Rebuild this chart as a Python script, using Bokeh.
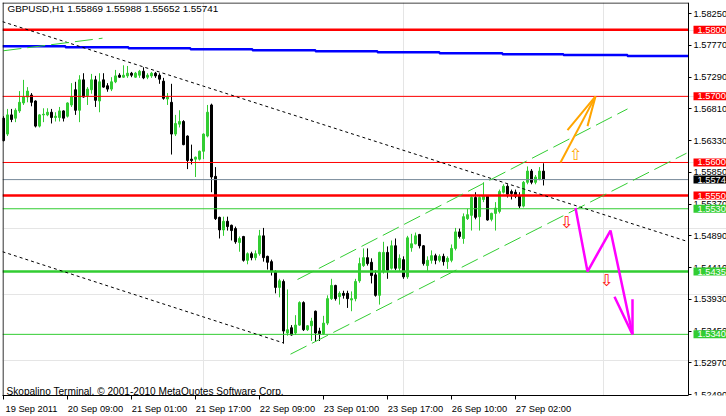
from bokeh.plotting import figure
from bokeh.models import (Range1d, FixedTicker, PrintfTickFormatter, Label,
                          ColumnDataSource, LinearAxis)
from bokeh.embed import file_html
from bokeh.resources import INLINE
from bokeh.core.properties import value

FONT = "Liberation Sans"
FS = "9.3px"
GREEN = "#32CD32"
RED = "#FF0000"

title_text = "GBPUSD,H1  1.55869 1.55988 1.55652 1.55741"
footer_text = "Skopalino Terminal, \u00a9 2001-2010 MetaQuotes Software Corp."

# hourly candles, bar index 0 = 19 Sep 2011
opens = [1.5667, 1.5643, 1.5672, 1.5667, 1.5678, 1.5690, 1.5699, 1.5702, 1.5693, 1.5655,
         1.5672, 1.5672, 1.5676, 1.5668, 1.5668, 1.5678, 1.5670, 1.5687, 1.5710, 1.5679,
         1.5725, 1.5701, 1.5710, 1.5725, 1.5693, 1.5725, 1.5716, 1.5711, 1.5722, 1.5732,
         1.5729, 1.5731, 1.5735, 1.5729, 1.5732, 1.5738, 1.5729, 1.5731, 1.5735, 1.5732,
         1.5723, 1.5696, 1.5691, 1.5643, 1.5658, 1.5662, 1.5640, 1.5605, 1.5605, 1.5605,
         1.5617, 1.5640, 1.5687, 1.5579, 1.5517, 1.5498, 1.5511, 1.5505, 1.5500, 1.5479,
         1.5488, 1.5452, 1.5462, 1.5456, 1.5462, 1.5489, 1.5458, 1.5450, 1.5435, 1.5411,
         1.5420, 1.5342, 1.5350, 1.5342, 1.5354, 1.5388, 1.5347, 1.5353, 1.5375, 1.5345,
         1.5341, 1.5357, 1.5394, 1.5414, 1.5397, 1.5402, 1.5402, 1.5392, 1.5394, 1.5421,
         1.5444, 1.5456, 1.5449, 1.5430, 1.5399, 1.5435, 1.5464, 1.5440, 1.5474, 1.5440,
         1.5453, 1.5427, 1.5471, 1.5477, 1.5491, 1.5474, 1.5444, 1.5452, 1.5459, 1.5452,
         1.5458, 1.5450, 1.5452, 1.5470, 1.5495, 1.5485, 1.5515, 1.5520, 1.5547, 1.5518,
         1.5544, 1.5549, 1.5514, 1.5523, 1.5526, 1.5555, 1.5564, 1.5556, 1.5555, 1.5550,
         1.5534, 1.5570, 1.5587, 1.5570, 1.5575, 1.55869]
highs = [1.5670, 1.5681, 1.5681, 1.5682, 1.5708, 1.5725, 1.5714, 1.5705, 1.5694, 1.5673,
         1.5682, 1.5682, 1.5681, 1.5676, 1.5684, 1.5679, 1.5691, 1.5720, 1.5722, 1.5732,
         1.5735, 1.5714, 1.5734, 1.5731, 1.5735, 1.5735, 1.5720, 1.5729, 1.5740, 1.5735,
         1.5747, 1.5746, 1.5737, 1.5737, 1.5740, 1.5744, 1.5735, 1.5737, 1.5737, 1.5735,
         1.5728, 1.5705, 1.5719, 1.5672, 1.5679, 1.5664, 1.5641, 1.5627, 1.5609, 1.5618,
         1.5644, 1.5687, 1.5689, 1.5593, 1.5518, 1.5518, 1.5518, 1.5506, 1.5503, 1.5488,
         1.5489, 1.5464, 1.5465, 1.5467, 1.5498, 1.5501, 1.5459, 1.5453, 1.5437, 1.5424,
         1.5423, 1.5408, 1.5354, 1.5369, 1.5390, 1.5390, 1.5354, 1.5365, 1.5376, 1.5350,
         1.5368, 1.5399, 1.5424, 1.5415, 1.5405, 1.5406, 1.5406, 1.5405, 1.5424, 1.5456,
         1.5470, 1.5470, 1.5455, 1.5437, 1.5465, 1.5480, 1.5473, 1.5482, 1.5485, 1.5461,
         1.5458, 1.5489, 1.5492, 1.5494, 1.5492, 1.5475, 1.5458, 1.5467, 1.5462, 1.5461,
         1.5462, 1.5458, 1.5476, 1.5501, 1.5500, 1.5523, 1.5530, 1.5549, 1.5555, 1.5549,
         1.5570, 1.5550, 1.5524, 1.5540, 1.5559, 1.5567, 1.5567, 1.5559, 1.5559, 1.5555,
         1.5572, 1.5594, 1.5590, 1.5581, 1.5593, 1.55988]
lows = [1.5632, 1.5640, 1.5661, 1.5661, 1.5675, 1.5687, 1.5691, 1.5685, 1.5653, 1.5653,
        1.5661, 1.5670, 1.5659, 1.5662, 1.5662, 1.5662, 1.5668, 1.5684, 1.5672, 1.5661,
        1.5698, 1.5687, 1.5704, 1.5684, 1.5676, 1.5713, 1.5707, 1.5708, 1.5720, 1.5728,
        1.5728, 1.5728, 1.5729, 1.5728, 1.5728, 1.5726, 1.5726, 1.5728, 1.5728, 1.5719,
        1.5695, 1.5687, 1.5612, 1.5640, 1.5653, 1.5626, 1.5590, 1.5597, 1.5578, 1.5603,
        1.5605, 1.5638, 1.5555, 1.5513, 1.5485, 1.5489, 1.5497, 1.5482, 1.5477, 1.5465,
        1.5450, 1.5446, 1.5452, 1.5452, 1.5459, 1.5450, 1.5438, 1.5429, 1.5402, 1.5396,
        1.5326, 1.5338, 1.5338, 1.5339, 1.5353, 1.5345, 1.5345, 1.5330, 1.5330, 1.5330,
        1.5339, 1.5354, 1.5392, 1.5391, 1.5385, 1.5394, 1.5380, 1.5375, 1.5390, 1.5418,
        1.5442, 1.5444, 1.5417, 1.5397, 1.5385, 1.5432, 1.5424, 1.5438, 1.5437, 1.5435,
        1.5424, 1.5424, 1.5465, 1.5476, 1.5470, 1.5444, 1.5436, 1.5447, 1.5446, 1.5449,
        1.5444, 1.5439, 1.5449, 1.5467, 1.5485, 1.5477, 1.5513, 1.5497, 1.5514, 1.5497,
        1.5540, 1.5512, 1.5511, 1.5497, 1.5523, 1.5553, 1.5547, 1.5544, 1.5546, 1.5531,
        1.5532, 1.5567, 1.5567, 1.5567, 1.5573, 1.55652]
closes = [1.5633, 1.5672, 1.5665, 1.5679, 1.5691, 1.5699, 1.5708, 1.5691, 1.5655, 1.5672,
          1.5673, 1.5676, 1.5668, 1.5670, 1.5678, 1.5667, 1.5690, 1.5699, 1.5679, 1.5725,
          1.5699, 1.5711, 1.5725, 1.5694, 1.5722, 1.5714, 1.5711, 1.5722, 1.5731, 1.5729,
          1.5732, 1.5735, 1.5732, 1.5735, 1.5738, 1.5728, 1.5732, 1.5735, 1.5731, 1.5726,
          1.5697, 1.5699, 1.5643, 1.5659, 1.5662, 1.5627, 1.5603, 1.5603, 1.5608, 1.5617,
          1.5643, 1.5676, 1.5578, 1.5515, 1.5498, 1.5511, 1.5503, 1.5497, 1.5480, 1.5485,
          1.5452, 1.5462, 1.5456, 1.5462, 1.5489, 1.5456, 1.5449, 1.5435, 1.5411, 1.5421,
          1.5345, 1.5347, 1.5339, 1.5354, 1.5388, 1.5347, 1.5353, 1.5360, 1.5342, 1.5341,
          1.5357, 1.5394, 1.5414, 1.5394, 1.5402, 1.5399, 1.5394, 1.5394, 1.5420, 1.5447,
          1.5456, 1.5447, 1.5429, 1.5399, 1.5464, 1.5464, 1.5437, 1.5474, 1.5440, 1.5455,
          1.5427, 1.5486, 1.5477, 1.5489, 1.5474, 1.5447, 1.5452, 1.5459, 1.5452, 1.5458,
          1.5450, 1.5455, 1.5470, 1.5495, 1.5488, 1.5518, 1.5521, 1.5547, 1.5517, 1.5547,
          1.5549, 1.5513, 1.5523, 1.5531, 1.5556, 1.5564, 1.5552, 1.5553, 1.5549, 1.5534,
          1.5570, 1.5587, 1.5570, 1.5578, 1.5587, 1.55741]

x_tick_bars = [0, 16, 32, 48, 64, 80, 96, 112, 128]
x_tick_labels = ["19 Sep 2011", "20 Sep 09:00", "21 Sep 01:00", "21 Sep 17:00", "22 Sep 09:00",
                 "23 Sep 01:00", "23 Sep 17:00", "26 Sep 10:00", "27 Sep 02:00"]
y_ticks = [1.52490, 1.52970, 1.53450, 1.53930, 1.54410, 1.54890, 1.55370,
           1.55850, 1.56330, 1.56810, 1.57290, 1.57770, 1.58250]

level_prices = [1.58009, 1.57000, 1.56000, 1.55741, 1.55500, 1.55300, 1.54350, 1.53400]
level_colors = [RED, RED, RED, "#778899", RED, GREEN, GREEN, GREEN]
level_widths = [2.5, 1, 1, 1, 2.5, 1, 2.5, 1]

blue_x = [-0.25, 15.5, 31.25, 46.75, 62.25, 78, 93.5, 109, 124.75, 140, 156, 171.25]
blue_y = [1.57759, 1.57744, 1.57729, 1.57714, 1.57699, 1.57684, 1.57669, 1.57654,
          1.57639, 1.57624, 1.57609, 1.57609]

trend_down_x = [-0.25, 171.25]
trend_down_y = [1.5813, 1.5480]
trend_low_x = [-0.25, 70]
trend_low_y = [1.5465, 1.5327]
chan_up_x = [73.5, 156]
chan_up_y = [1.5423, 1.5681]
chan_lo_x = [71.75, 170.75]
chan_lo_y = [1.5310, 1.5614]
chan_old_x = [0, 24.75]
chan_old_y = [1.5769, 1.5788]

up_path_x = [139.25, 148]
up_path_y = [1.5600, 1.5700]
up_head_x = [141, 148, 146]
up_head_y = [1.5649, 1.5700, 1.5655]
down_path_x = [143, 146, 151.75, 157.25]
down_path_y = [1.5531, 1.5435, 1.5497, 1.5340]
down_head_x = [152.75, 157.25, 157.25]
down_head_y = [1.5397, 1.5340, 1.5393]

sig_x = [143, 140.75, 150.75]
sig_y = [1.5612, 1.5509, 1.5421]
sig_text = ["\u21e7", "\u21e9", "\u21e9"]
sig_color = ["#FFA500", RED, RED]

tag_prices = [1.58009, 1.57000, 1.56000, 1.55741, 1.55500, 1.55300, 1.54350, 1.53400]
tag_colors = [RED, RED, RED, "#000000", RED, GREEN, GREEN, GREEN]

# chart geometry (bar index / price space)
x_start, x_end = -0.25, 180.75
chart_right = 171.25
tag_x = 172.5
y_start, y_end = 1.52475, 1.58420
label_shift = 7.0
FRAME_H = 396

n = len(opens)
bars = list(range(n))
candle_color = [GREEN if c > o else "#000000" for o, c in zip(opens, closes)]
src = ColumnDataSource(dict(
    x=bars, h=highs, l=lows,
    top=[max(o, c) for o, c in zip(opens, closes)],
    bottom=[min(o, c) for o, c in zip(opens, closes)],
    color=candle_color))

p = figure(width=724, height=414, output_backend="svg", toolbar_location=None,
           x_range=Range1d(x_start, x_end), y_range=Range1d(y_start, y_end),
           x_axis_location=None, y_axis_location=None,
           min_border_left=0, min_border_right=0, min_border_top=0,
           min_border_bottom=414 - FRAME_H,
           styles={"position": "absolute", "left": "2px", "top": "2px"})
p.background_fill_color = "white"
p.border_fill_color = "white"
p.outline_line_color = None


def style_axis(ax):
    ax.major_label_text_font = FONT
    ax.major_label_text_font_size = FS
    ax.major_label_text_color = "black"
    ax.major_tick_in = 0
    ax.minor_tick_in = 0
    ax.minor_tick_out = 0


# time axis: tick marks at the bar times (minor ticks), labels just right of them
label_pos = [round(t + label_shift, 2) for t in x_tick_bars]
xa = LinearAxis(ticker=FixedTicker(ticks=label_pos, minor_ticks=x_tick_bars),
                major_label_overrides=dict(zip(label_pos, x_tick_labels)))
style_axis(xa)
xa.axis_line_color = "black"
xa.major_tick_line_color = None
xa.major_tick_out = 0
xa.minor_tick_line_color = "black"
xa.minor_tick_out = 4
xa.major_label_standoff = 4
xa.bounds = (x_start, chart_right)
p.add_layout(xa, "below")

# price scale on the right edge of the chart
ya = LinearAxis(fixed_location=chart_right, ticker=FixedTicker(ticks=y_ticks),
                formatter=PrintfTickFormatter(format="%.5f"))
style_axis(ya)
ya.axis_line_color = "black"
ya.major_tick_line_color = "black"
ya.major_tick_out = 3
ya.major_label_standoff = 2
p.add_layout(ya, "right")

# candles
p.segment(x0="x", y0="h", x1="x", y1="l", line_color="color", line_width=1, source=src)
p.vbar(x="x", width=0.5, top="top", bottom="bottom", fill_color="color",
       line_color="color", line_width=1, source=src)

# horizontal levels
p.segment(x0=[x_start] * len(level_prices), y0=level_prices,
          x1=[chart_right] * len(level_prices), y1=level_prices,
          line_color=level_colors, line_width=level_widths)

# moving average (blue step line)
p.step(blue_x, blue_y, mode="after", line_color="#0000FF", line_width=2.5)

# trend lines
p.line(trend_down_x, trend_down_y, line_color="black", line_width=1, line_dash="3 3")
p.line(trend_low_x, trend_low_y, line_color="black", line_width=1, line_dash="3 3")
for xs, ys in ((chan_up_x, chan_up_y), (chan_lo_x, chan_lo_y), (chan_old_x, chan_old_y)):
    p.line(xs, ys, line_color=GREEN, line_width=1, line_dash="18 6")

# forecast arrows
p.line(up_path_x, up_path_y, line_color="#FFA500", line_width=2)
p.line(up_head_x, up_head_y, line_color="#FFA500", line_width=2)
p.line(down_path_x, down_path_y, line_color="#FF00FF", line_width=2.5)
p.line(down_head_x, down_head_y, line_color="#FF00FF", line_width=2.5)

p.text(x=sig_x, y=sig_y, text=sig_text, text_color=sig_color,
       text_font=value("DejaVu Sans"), text_font_size="16px",
       text_align="center", text_baseline="middle")

# chart frame (left and top edges)
half_px_x = (x_end - x_start) / 724 / 2
half_px_y = (y_end - y_start) / FRAME_H / 2
p.segment(x0=[x_start + half_px_x, x_start], y0=[y_start, y_end - half_px_y],
          x1=[x_start + half_px_x, chart_right], y1=[y_end, y_end - half_px_y],
          line_color="black", line_width=1)

# price tags on the right scale
for pr, col in zip(tag_prices, tag_colors):
    p.add_layout(Label(x=tag_x, y=pr, x_units="data", y_units="data", text=f"{pr:.5f}",
                       text_font=FONT, text_font_size=FS, text_color="white",
                       text_baseline="middle", background_fill_color=col,
                       padding=(4, 1)))

p.add_layout(Label(x=5, y=FRAME_H - 3, x_units="screen", y_units="screen", text=title_text,
                   text_font=FONT, text_font_size="9.9px", text_color="black",
                   text_baseline="top"))
p.add_layout(Label(x=4, y=4, x_units="screen", y_units="screen", text=footer_text,
                   text_font=FONT, text_font_size="10.1px", text_color="black",
                   text_baseline="alphabetic"))

open("out.html", "w").write(file_html(p, INLINE))
